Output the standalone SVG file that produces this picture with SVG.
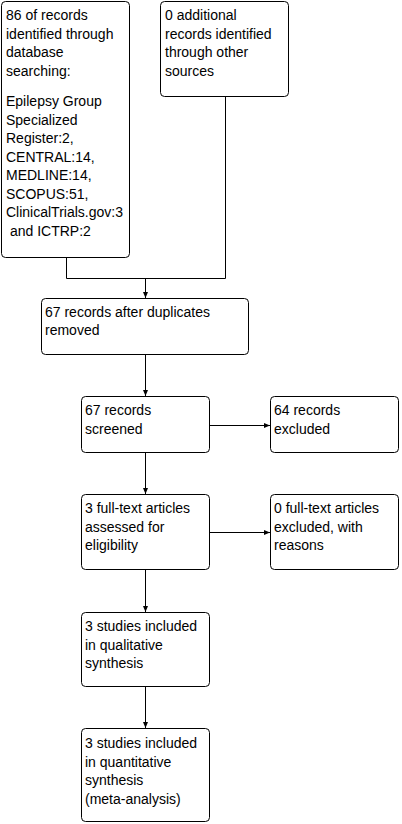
<svg xmlns="http://www.w3.org/2000/svg" width="402" height="824" viewBox="0 0 402 824">
<style>
.box{fill:#fff;stroke:#000;stroke-width:1}
text{font-family:"Liberation Sans",Arial,sans-serif;font-size:14px;fill:#000}
.c{fill:none;stroke:#000;stroke-width:1}
</style>
<defs>
<marker id="ah" viewBox="0 0 6 6" refX="6" refY="3" markerWidth="6" markerHeight="6" markerUnits="userSpaceOnUse" orient="auto">
<path d="M0,0.5 L6,3 L0,5.5 Z" fill="#000"/>
</marker>
</defs>
<rect width="402" height="824" fill="#fff"/>
<g id="connectors">
<path class="c" d="M66.5,257 V278.5 H225.5 V96"/>
<path class="c" d="M145.5,278.5 V298" marker-end="url(#ah)"/>
<path class="c" d="M145.5,355 V396" marker-end="url(#ah)"/>
<path class="c" d="M209,425.5 H270" marker-end="url(#ah)"/>
<path class="c" d="M145.5,453 V494" marker-end="url(#ah)"/>
<path class="c" d="M209,532.5 H270" marker-end="url(#ah)"/>
<path class="c" d="M145.5,570 V612" marker-end="url(#ah)"/>
<path class="c" d="M145.5,687 V728" marker-end="url(#ah)"/>
</g>
<g id="n1">
<rect class="box" x="1.5" y="1.5" width="128" height="256" rx="4"/>
<text><tspan x="6" y="20">86 of records</tspan><tspan x="6" y="38.5">identified through</tspan><tspan x="6" y="57">database</tspan><tspan x="6" y="75.5">searching:</tspan><tspan x="6" y="106">Epilepsy Group</tspan><tspan x="6" y="124.5">Specialized</tspan><tspan x="6" y="143">Register:2,</tspan><tspan x="6" y="161.5">CENTRAL:14,</tspan><tspan x="6" y="180">MEDLINE:14,</tspan><tspan x="6" y="198.5">SCOPUS:51,</tspan><tspan x="6" y="217">ClinicalTrials.gov:3</tspan><tspan x="6" y="235.5"> and ICTRP:2</tspan></text>
</g>
<g id="n2">
<rect class="box" x="160.5" y="1.5" width="128" height="95" rx="4"/>
<text><tspan x="165" y="20">0 additional</tspan><tspan x="165" y="38.5">records identified</tspan><tspan x="165" y="57">through other</tspan><tspan x="165" y="75.5">sources</tspan></text>
</g>
<g id="n3">
<rect class="box" x="41.5" y="298.5" width="207" height="56" rx="4"/>
<text><tspan x="45" y="316.5">67 records after duplicates</tspan><tspan x="45" y="335">removed</tspan></text>
</g>
<g id="n4">
<rect class="box" x="81.5" y="396.5" width="128" height="56" rx="4"/>
<text><tspan x="85" y="415">67 records</tspan><tspan x="85" y="433.5">screened</tspan></text>
</g>
<g id="n5">
<rect class="box" x="270.5" y="396.5" width="128" height="56" rx="4"/>
<text><tspan x="274" y="415">64 records</tspan><tspan x="274" y="433.5">excluded</tspan></text>
</g>
<g id="n6">
<rect class="box" x="81.5" y="494.5" width="128" height="75" rx="4"/>
<text><tspan x="85" y="513">3 full-text articles</tspan><tspan x="85" y="531.5">assessed for</tspan><tspan x="85" y="550">eligibility</tspan></text>
</g>
<g id="n7">
<rect class="box" x="270.5" y="494.5" width="128" height="75" rx="4"/>
<text><tspan x="274" y="513">0 full-text articles</tspan><tspan x="274" y="531.5">excluded, with</tspan><tspan x="274" y="550">reasons</tspan></text>
</g>
<g id="n8">
<rect class="box" x="81.5" y="612.5" width="128" height="74" rx="4"/>
<text><tspan x="85" y="631">3 studies included</tspan><tspan x="85" y="649.5">in qualitative</tspan><tspan x="85" y="668">synthesis</tspan></text>
</g>
<g id="n9">
<rect class="box" x="81.5" y="728.5" width="128" height="93" rx="4"/>
<text><tspan x="85" y="748">3 studies included</tspan><tspan x="85" y="766.5">in quantitative</tspan><tspan x="85" y="785">synthesis</tspan><tspan x="85" y="803.5">(meta-analysis)</tspan></text>
</g>
</svg>
